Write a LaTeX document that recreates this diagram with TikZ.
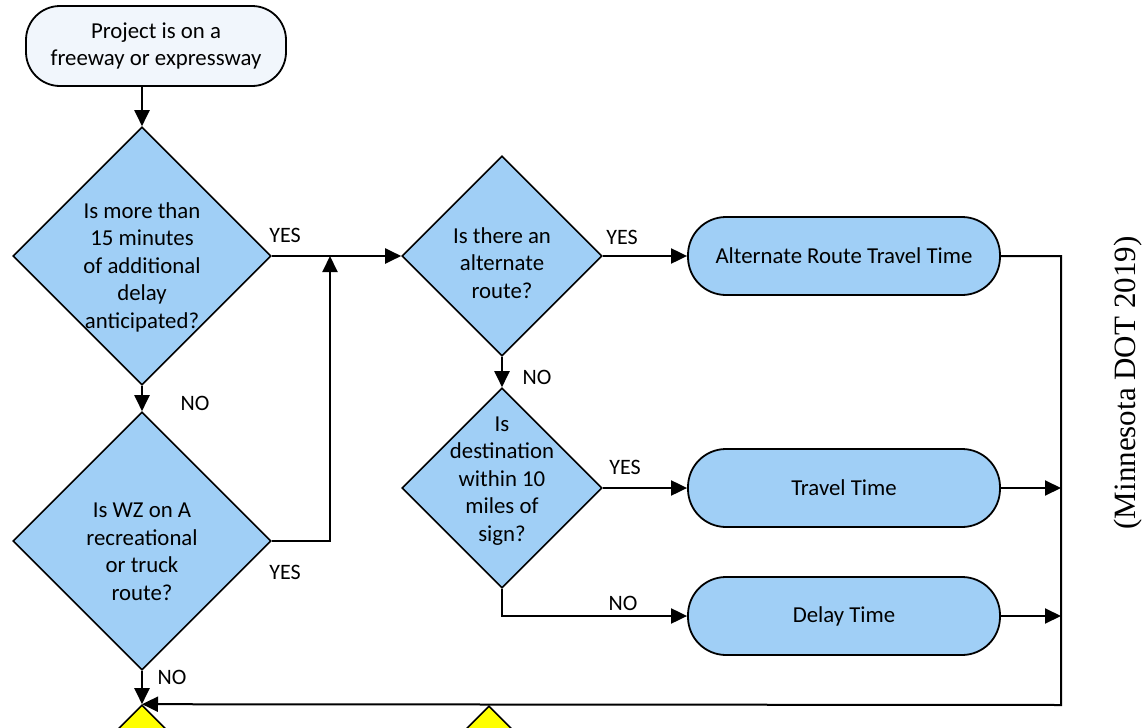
\documentclass[tikz,border=0pt]{standalone}
\usepackage{fontspec}
\setmainfont{Carlito}
\newfontfamily\citefont{Liberation Serif}
\usetikzlibrary{arrows.meta,shapes.geometric}
\definecolor{MnBlue}{RGB}{160,207,246}
\definecolor{MnPale}{RGB}{241,246,252}
\definecolor{MnYellow}{RGB}{255,255,0}
\tikzset{
  mn/term/.style={
    draw=black,
    line width=0.9pt,
    rounded corners=19pt,
    fill=MnBlue,
    align=center,
    minimum width=156pt,
    minimum height=39pt,
    font=\fontsize{11.4}{13.75}\selectfont
  },
  mn/start/.style={
    mn/term,
    fill=MnPale,
    rounded corners=17pt,
    minimum width=130pt,
    minimum height=40pt
  },
  mn/decision/.style={
    diamond,
    draw=black,
    line width=0.8pt,
    fill=MnBlue,
    inner sep=0pt,
    minimum width=129pt,
    minimum height=129pt
  },
  mn/smalldecision/.style={mn/decision, minimum width=100pt, minimum height=100pt},
  mn/stop/.style={mn/decision, fill=MnYellow},
  mn/qtext/.style={align=center, inner sep=0pt, font=\fontsize{11.4}{13.75}\selectfont},
  mn/answer/.style={inner sep=0pt, font=\fontsize{11}{13}\selectfont},
  mn/arrow/.style={-{Triangle[length=8pt,width=7.5pt]}, line width=1pt},
  mn/cite/.style={rotate=90, font=\citefont\fontsize{15.5}{18}\selectfont}
}

\begin{document}
\begin{tikzpicture}[x=0.5pt,y=-0.5pt]
  \useasboundingbox (0,0) rectangle (1147,728);

  % start and questions
  \node[mn/start] (start) at (156,46) {Project is on a\\freeway or expressway};
  \node[mn/decision] (d1) at (142,256) {};
  \node[mn/qtext] (d1txt) at (142,267) {Is more than\\15 minutes\\of additional\\delay\\anticipated?};
  \node[mn/decision] (d4) at (142,541) {};
  \node[mn/qtext] (d4txt) at (142,552) {Is WZ on A\\recreational\\or truck\\route?};
  \node[mn/smalldecision] (d2) at (502,256) {};
  \node[mn/qtext] (d2txt) at (502,263) {Is there an\\alternate\\route?};
  \node[mn/smalldecision] (d3) at (502,488) {};
  \node[mn/qtext] (d3txt) at (502,481) {Is\\destination\\within 10\\miles of\\sign?};

  % outcomes
  \node[mn/term] (alt) at (844,256) {Alternate Route Travel Time};
  \node[mn/term] (tt) at (844,488) {Travel Time};
  \node[mn/term] (dt) at (844,616) {Delay Time};
  \node[mn/stop] (y1) at (142,834) {};
  \node[mn/stop] (y2) at (489,835) {};

  \coordinate (merge) at (330,256);
  \coordinate (jt) at (1061,488);
  \coordinate (jd) at (1061,616);
  \coordinate (bus) at (1061,705);

  % connectors
  \draw[mn/arrow] (d1.north |- start.south) -- (d1.north);
  \draw[mn/arrow] (d1.east) -- (d2.west);
  \draw[mn/arrow] (d1.south) -- (d4.north);
  \draw[mn/arrow] (d4.east) -| (merge);
  \draw[mn/arrow] (d2.east) -- (alt.west);
  \draw[mn/arrow] (d2.south) -- (d3.north);
  \draw[mn/arrow] (d3.east) -- (tt.west);
  \draw[mn/arrow] (d3.south) |- (dt.west);
  \draw[mn/arrow] (alt.east) -| (bus) -- (y1.north);
  \draw[mn/arrow] (tt.east) -- (jt);
  \draw[mn/arrow] (dt.east) -- (jd);
  \draw[mn/arrow] (d4.south) -- (y1.north);

  % answers
  \node[mn/answer] (yes1) at (285,235) {YES};
  \node[mn/answer] (no1) at (195,403) {NO};
  \node[mn/answer] (yes4) at (285,572) {YES};
  \node[mn/answer] (no4) at (172,677) {NO};
  \node[mn/answer] (yes2) at (622,237) {YES};
  \node[mn/answer] (no2) at (537,377) {NO};
  \node[mn/answer] (yes3) at (625,467) {YES};
  \node[mn/answer] (no3) at (623,603) {NO};

  \node[mn/cite] (cite) at (1128,383) {(Minnesota DOT 2019)};
\end{tikzpicture}
\end{document}
